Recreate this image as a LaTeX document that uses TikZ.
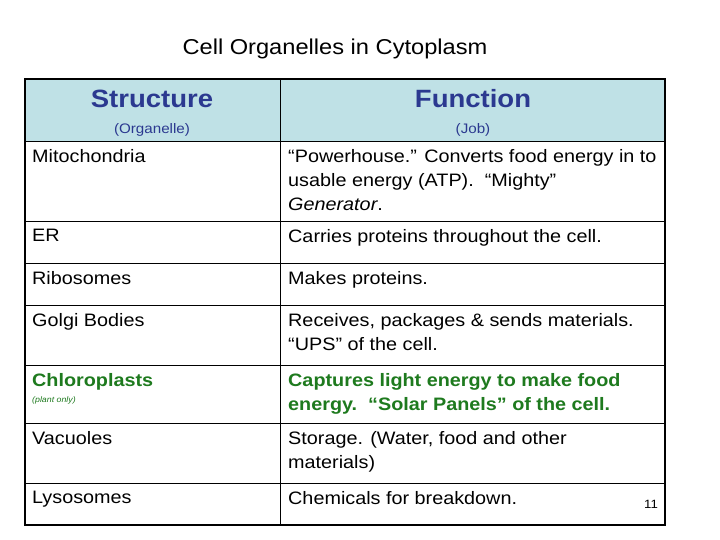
\documentclass[tikz,border=0pt]{standalone}
\usepackage{fontspec}
\setmainfont{Liberation Sans}[FakeStretch=1.1]
\definecolor{hdr}{HTML}{BFE1E6}
\definecolor{hblue}{HTML}{2B3990}
\definecolor{gr}{HTML}{1E7A1E}
\begin{document}
\begin{tikzpicture}[x=1pt,y=-1pt,
 cell/.style={anchor=north west,align=left,inner sep=0pt,font=\fontsize{18}{24}\selectfont},
 grid/.style={line width=0.8pt}]
\useasboundingbox (0,0) rectangle (720,540);
\fill[white] (0,0) rectangle (720,540);
\fill[hdr] (25,79) rectangle (665,141);
\node[font=\fontsize{21.5}{24}\selectfont] (title) at (335,49) {Cell Organelles in Cytoplasm};
\node[font=\fontsize{25}{28}\bfseries\selectfont,text=hblue] (h1) at (152,99) {Structure};
\node[font=\fontsize{25}{28}\bfseries\selectfont,text=hblue] (h2) at (473,99) {Function};
\node[font=\fontsize{13.8}{15}\selectfont,text=hblue] (s1) at (152,130) {(Organelle)};
\node[font=\fontsize{13.8}{15}\selectfont,text=hblue] (s2) at (473,130) {(Job)};
\foreach \y in {141,221,263,305,365,423,483} \draw[grid] (25,\y) -- (665,\y);
\draw[grid] (280,79) -- (280,525);
\draw[line width=2pt] (25,79) rectangle (665,525);
\node[cell] (m1) at (32,149) {Mitochondria};
\node[cell] (m2) at (288,149) {“Powerhouse.” Converts food energy in to\\usable energy (ATP).\ \ “Mighty”\\\textit{Generator}.};
\node[cell] (e1) at (32,229) {ER};
\node[cell] (e2) at (288,229) {Carries proteins throughout the cell.};
\node[cell] (r1) at (32,271) {Ribosomes};
\node[cell] (r2) at (288,271) {Makes proteins.};
\node[cell] (g1) at (32,313) {Golgi Bodies};
\node[cell] (g2) at (288,313) {Receives, packages \& sends materials.\\“UPS” of the cell.};
\node[cell,text=gr,font=\fontsize{18}{24}\bfseries\selectfont] (c1) at (32,373) {Chloroplasts};
\node[cell,text=gr,font=\fontsize{8}{10}\itshape\selectfont] (c1b) at (32,397) {(plant only)};
\node[cell,text=gr,font=\fontsize{18}{24}\bfseries\selectfont] (c2) at (288,373) {Captures light energy to make food\\energy.\ \ “Solar Panels” of the cell.};
\node[cell] (v1) at (32,431) {Vacuoles};
\node[cell] (v2) at (288,431) {Storage. (Water, food and other\\materials)};
\node[cell] (l1) at (32,491) {Lysosomes};
\node[cell] (l2) at (288,491) {Chemicals for breakdown.};
\node[font=\fontsize{12}{14}\selectfont] (pg) at (651,504) {11};
\end{tikzpicture}
\end{document}
